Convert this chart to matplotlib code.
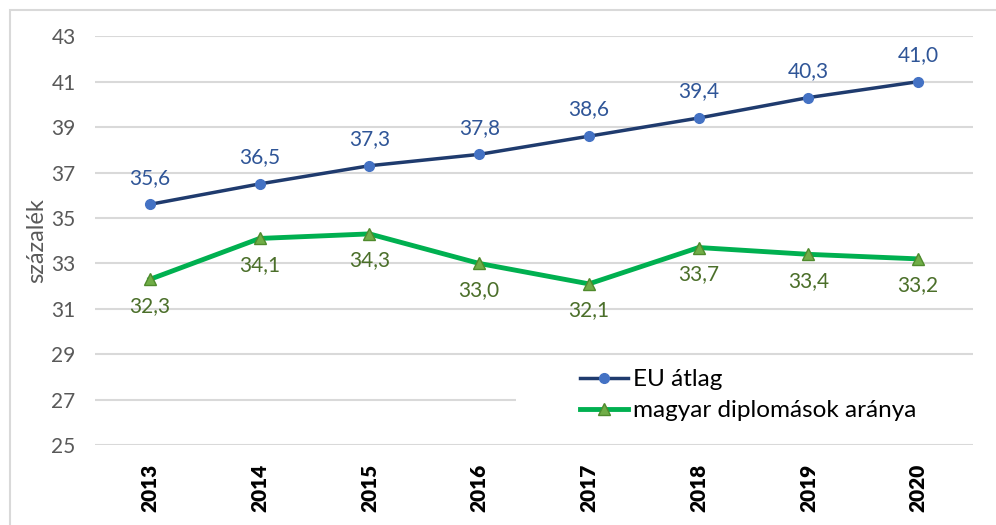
import matplotlib.pyplot as plt
from matplotlib.patches import Rectangle

# ---------- Data ----------
years = ["2013", "2014", "2015", "2016", "2017", "2018", "2019", "2020"]
eu_avg = [35.6, 36.5, 37.3, 37.8, 38.6, 39.4, 40.3, 41.0]
hu_grads = [32.3, 34.1, 34.3, 33.0, 32.1, 33.7, 33.4, 33.2]
y_ticks = [25, 27, 29, 31, 33, 35, 37, 39, 41, 43]

plt.rcParams['font.family'] = ['Lato', 'DejaVu Sans']

fig = plt.figure(figsize=(9.96, 5.25), dpi=100)
ax = fig.add_axes([0.0954, 0.152, 0.8816, 0.779])

# outer frame of the chart area
fig.patches.append(Rectangle((10 / 996, -0.1), 1.2, 1 - 10 / 525 + 0.1,
                             transform=fig.transFigure, fill=False,
                             edgecolor="#d9d9d9", linewidth=1.5))

x = list(range(len(years)))
ax.plot(x, eu_avg, color="#1f3b6e", linewidth=2.5, marker="o", markersize=7,
        markerfacecolor="#4472c4", markeredgecolor="#4472c4", label="EU átlag", zorder=3)
ax.plot(x, hu_grads, color="#00b050", linewidth=3.5, marker="^", markersize=9,
        markerfacecolor="#70ad47", markeredgecolor="#4f8a2c", label="magyar diplomások aránya", zorder=3)

for i, v in enumerate(eu_avg):
    ax.annotate(f"{v:.1f}".replace(".", ","), (i, v), xytext=(0, 12), textcoords="offset points",
                ha="center", va="bottom", fontsize=15, color="#2f5597")
for i, v in enumerate(hu_grads):
    ax.annotate(f"{v:.1f}".replace(".", ","), (i, v), xytext=(0, -12), textcoords="offset points",
                ha="center", va="top", fontsize=15, color="#4b6f2a")

ax.set_xlim(-0.5, len(years) - 0.5)
ax.set_ylim(25, 43)
ax.set_yticks(y_ticks)
ax.set_xticks(x)
ax.set_xticklabels(years, rotation=90, fontweight="heavy", fontsize=15, color="black")
ax.tick_params(axis="y", labelsize=15, labelcolor="#595959", length=0, pad=14)
ax.tick_params(axis="x", length=0, pad=13)
ax.grid(axis="y", color="#d9d9d9", linewidth=1.5)
ax.set_axisbelow(True)
for s in ax.spines.values():
    s.set_visible(False)
ax.set_ylabel("százalék", fontsize=17, color="#595959")
ax.yaxis.set_label_coords(-0.055, 0.5)

# white legend background covering the lower gridline
ax.add_patch(Rectangle((0.48, 0.02), 0.55, 0.19, transform=ax.transAxes,
                       facecolor="white", edgecolor="none", zorder=2, clip_on=False))
leg = ax.legend(loc="center left", bbox_to_anchor=(0.552, 0.122), fontsize=17.5, frameon=False,
                handlelength=2.0, handletextpad=0.2, borderpad=0, borderaxespad=0,
                labelspacing=0.4)

fig.savefig("out.png", dpi=100)
